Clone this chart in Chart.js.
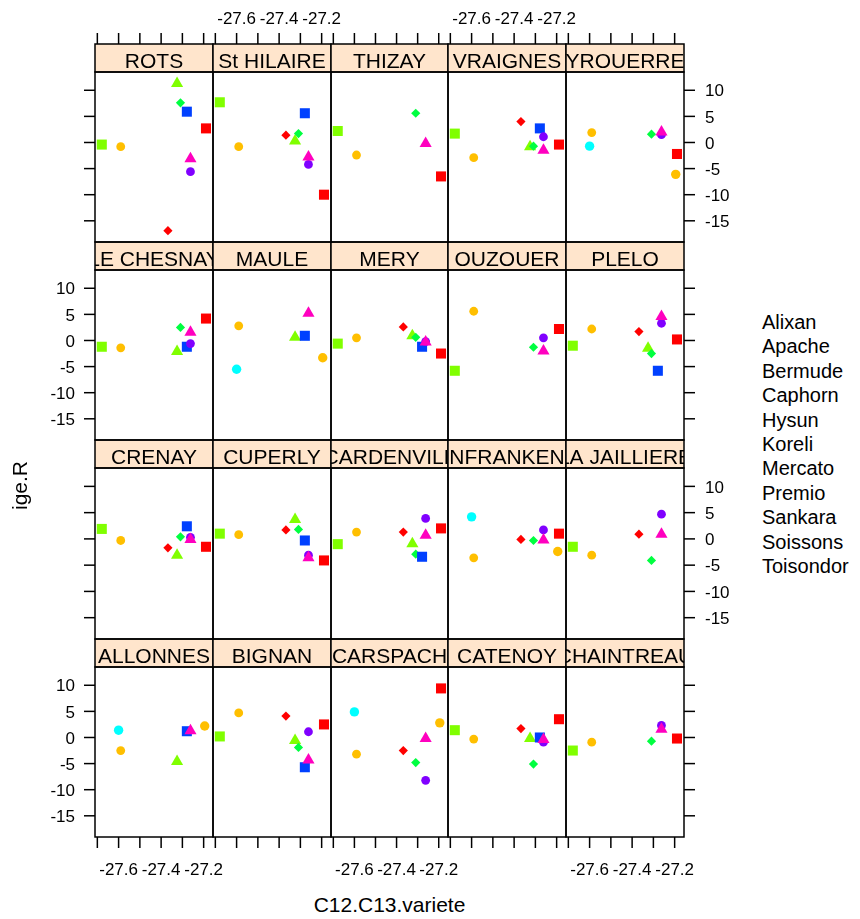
<!DOCTYPE html>
<html>
<head>
<meta charset="utf-8">
<script src="https://cdn.jsdelivr.net/npm/chart.js@4.4.1/dist/chart.umd.min.js"></script>
<style>
  body { margin: 0; background: #fff; width: 860px; height: 919px; position: relative; overflow: hidden;
         font-family: "Liberation Sans", Arial, sans-serif; }
  canvas { position: absolute; }
  .txt { position: absolute; color: #000; white-space: nowrap; }
</style>
</head>
<body>
<script>
// sites in lattice order (bottom-left panel first)
const sites = [
  'ALLONNES', 'BIGNAN', 'CARSPACH', 'CATENOY', 'CHAINTREAU',
  'CRENAY', 'CUPERLY', 'ECARDENVILLE', 'NFRANKEN', 'LA JAILLIERE',
  'LE CHESNAY', 'MAULE', 'MERY', 'OUZOUER', 'PLELO',
  'ROTS', 'St HILAIRE', 'THIZAY', 'VRAIGNES', 'YROUERRE',
];

const varieties = ['Alixan', 'Apache', 'Bermude', 'Caphorn', 'Hysun', 'Koreli',
  'Mercato', 'Premio', 'Sankara', 'Soissons', 'Toisondor'];

// C12.C13 value of each variety (x position)
const varietyX = [-27.189, -27.590, -27.325, -27.309, -27.600, -27.279,
  -27.262, -27.262, -27.368, -27.195, -27.679];

// y values, one per site (same order as sites), null = not grown there
const alixan    = [null, 2.5, 9.4, 3.5, -0.2, -1.5, -4.1, 2.0, 1.0, null, 4.2, null, -2.5, 2.2, 0.2, 2.7, -10.0, -6.5, -0.4, -2.2];
const apache    = [-2.5, 4.7, -3.2, -0.3, -0.9, -0.3, 0.8, 1.3, -3.6, -3.1, -1.4, 2.8, 0.5, 5.6, 2.2, -0.8, -0.8, -2.4, -2.9, 1.9];
const bermude   = [-4.6, -0.6, null, -0.2, null, -3.1, 3.7, -0.9, null, null, -2.1, 0.6, 0.9, null, -1.5, 11.3, 0.3, null, -0.8, null];
const caphorn   = [null, -1.9, -4.8, -5.1, -0.7, 0.4, 1.8, -2.9, -0.3, -4.1, 2.5, null, 0.6, -1.3, -2.5, 7.6, 1.7, 5.6, -0.7, 1.6];
const hysun     = [1.4, null, 4.9, null, null, null, null, null, 4.2, null, null, -5.5, null, null, null, null, null, null, null, -0.7];
const koreli    = [1.2, -5.7, null, 0.0, null, 2.4, -0.3, -3.4, null, null, -1.2, 0.9, -1.2, null, -5.8, 5.9, 5.6, null, 2.7, null];
const mercato   = [null, 1.1, -8.2, -0.9, 2.3, 0.3, -3.1, 3.9, 1.7, 4.7, -0.6, null, -0.2, 0.5, 3.3, -5.6, -4.2, null, 1.1, 1.5];
const premio    = [1.3, -4.3, -0.2, -0.4, 1.6, -0.1, -3.6, 0.7, -0.2, 0.9, 1.6, 5.2, -0.3, -2.0, 4.6, -3.1, -2.8, -0.2, -1.5, 2.0];
const sankara   = [null, 4.1, -2.5, 1.7, null, -1.7, 1.7, 1.3, -0.1, 0.9, null, null, 2.6, null, 1.7, -16.9, 1.4, null, 4.0, null];
const soissons  = [2.2, null, 2.8, null, null, null, null, null, -2.4, null, null, -3.3, null, null, null, null, null, null, null, -6.1];
const toisondor = [null, 0.2, null, 1.4, -2.5, 1.9, 1.0, -1.0, null, -1.5, -1.2, null, -0.6, -5.8, -1.0, -0.4, 7.7, 2.2, 1.7, null];

const seriesValues = [alixan, apache, bermude, caphorn, hysun, koreli, mercato, premio, sankara, soissons, toisondor];

const xTicks = [-27.7, -27.6, -27.5, -27.4, -27.3, -27.2];
const xTickLabels = ['-27.6', '-27.4', '-27.2'];
const yTicks = [-15, -10, -5, 0, 5, 10];

// marker styles: rainbow(8) colours, pch 15..19 cycling
const rainbow8 = ['#FF0000', '#FFBF00', '#80FF00', '#00FF40', '#00FFFF', '#0040FF', '#8000FF', '#FF00BF'];
const pchCycle = [
  { shape: 'rect', radius: 7.1 },
  { shape: 'circle', radius: 4.4 },
  { shape: 'triangle', radius: 7 },
  { shape: 'rectRot', radius: 4.6 },
  { shape: 'circle', radius: 4.7 },
];

// layout
const colEdges = [95, 213, 331, 448, 566, 684];
const rowTops = [44, 242, 440, 639];
const rowBottoms = [242, 440, 639, 837];
const stripH = 28;
const padX = 60;
const padY = 50;
const xRange = [-27.711, -27.156];
const yRange = [-19.06, 13.5];

const panelDecor = {
  id: 'panelDecor',
  afterDraw(chart, args, opts) {
    const { ctx, chartArea: a } = chart;
    const xs = chart.scales.x;
    const ys = chart.scales.y;
    const stripTop = a.top - stripH;
    ctx.save();

    // strip
    ctx.fillStyle = '#FFE5CC';
    ctx.fillRect(a.left, stripTop, a.right - a.left, stripH);
    ctx.save();
    ctx.beginPath();
    ctx.rect(a.left, stripTop, a.right - a.left, stripH);
    ctx.clip();
    ctx.fillStyle = '#000';
    ctx.font = '21px "Liberation Sans", Arial, sans-serif';
    ctx.textAlign = 'center';
    ctx.textBaseline = 'alphabetic';
    ctx.fillText(opts.name, (a.left + a.right) / 2, a.top - 3.7);
    ctx.restore();

    // borders
    ctx.strokeStyle = '#000';
    ctx.lineWidth = 1.5;
    ctx.strokeRect(a.left, stripTop, a.right - a.left, stripH);
    ctx.strokeRect(a.left, a.top, a.right - a.left, a.bottom - a.top);

    ctx.fillStyle = '#000';
    ctx.font = '17px "Liberation Sans", Arial, sans-serif';
    const tick = 11;

    if (opts.row === 0) {
      xTicks.forEach((v) => {
        const px = xs.getPixelForValue(v);
        ctx.beginPath();
        ctx.moveTo(px, stripTop);
        ctx.lineTo(px, stripTop - tick);
        ctx.stroke();
      });
      if (opts.col % 2 === 1) {
        ctx.textAlign = 'center';
        ctx.textBaseline = 'alphabetic';
        xTickLabels.forEach((t) => ctx.fillText(t, xs.getPixelForValue(+t), stripTop - 20));
      }
    }
    if (opts.row === 3) {
      xTicks.forEach((v) => {
        const px = xs.getPixelForValue(v);
        ctx.beginPath();
        ctx.moveTo(px, a.bottom);
        ctx.lineTo(px, a.bottom + tick);
        ctx.stroke();
      });
      if (opts.col % 2 === 0) {
        ctx.textAlign = 'center';
        ctx.textBaseline = 'alphabetic';
        xTickLabels.forEach((t) => ctx.fillText(t, xs.getPixelForValue(+t), a.bottom + 38));
      }
    }
    if (opts.col === 0) {
      yTicks.forEach((v) => {
        const py = ys.getPixelForValue(v);
        ctx.beginPath();
        ctx.moveTo(a.left, py);
        ctx.lineTo(a.left - tick, py);
        ctx.stroke();
      });
      if (opts.row % 2 === 1) {
        ctx.textAlign = 'right';
        ctx.textBaseline = 'middle';
        yTicks.forEach((v) => ctx.fillText(String(v), a.left - 20, ys.getPixelForValue(v) + 1.5));
      }
    }
    if (opts.col === 4) {
      yTicks.forEach((v) => {
        const py = ys.getPixelForValue(v);
        ctx.beginPath();
        ctx.moveTo(a.right, py);
        ctx.lineTo(a.right + tick, py);
        ctx.stroke();
      });
      if (opts.row % 2 === 0) {
        ctx.textAlign = 'left';
        ctx.textBaseline = 'middle';
        yTicks.forEach((v) => ctx.fillText(String(v), a.right + 21, ys.getPixelForValue(v) + 1.5));
      }
    }
    ctx.restore();
  },
};

function makePanel(i) {
  const row = 3 - Math.floor(i / 5);
  const col = i % 5;
  const w = colEdges[col + 1] - colEdges[col];
  const h = rowBottoms[row] - rowTops[row] - stripH;

  const canvas = document.createElement('canvas');
  canvas.width = w + 2 * padX;
  canvas.height = h + stripH + 2 * padY;
  canvas.style.left = (colEdges[col] - padX) + 'px';
  canvas.style.top = (rowTops[row] - padY) + 'px';
  canvas.style.width = canvas.width + 'px';
  canvas.style.height = canvas.height + 'px';
  document.body.appendChild(canvas);

  const datasets = varieties.map((name, k) => {
    const v = seriesValues[k][i];
    const pch = pchCycle[k % 5];
    const col8 = rainbow8[k % 8];
    return {
      label: name,
      data: v === null ? [] : [{ x: varietyX[k], y: v }],
      pointStyle: pch.shape,
      pointRadius: pch.radius,
      pointBackgroundColor: col8,
      pointBorderColor: col8,
      pointBorderWidth: 0,
      order: varieties.length - k,
    };
  });

  new Chart(canvas, {
    type: 'scatter',
    data: { datasets },
    options: {
      responsive: false,
      animation: false,
      events: [],
      layout: { padding: { left: padX, right: padX, top: padY + stripH, bottom: padY } },
      scales: {
        x: { type: 'linear', min: xRange[0], max: xRange[1], display: false },
        y: { type: 'linear', min: yRange[0], max: yRange[1], display: false },
      },
      plugins: {
        legend: { display: false },
        tooltip: { enabled: false },
        panelDecor: { name: sites[i], row, col },
      },
    },
    plugins: [panelDecor],
  });
}

sites.forEach((s, i) => makePanel(i));

// text outside the panels
function addText(text, css) {
  const d = document.createElement('div');
  d.className = 'txt';
  d.textContent = text;
  Object.assign(d.style, css);
  document.body.appendChild(d);
  return d;
}

addText('C12.C13.variete', { left: '0px', width: '779px', textAlign: 'center', top: '893px', fontSize: '21px', lineHeight: '24px', paddingLeft: '0px' });
addText('ige.R', { left: '-4px', top: '474px', fontSize: '21px', lineHeight: '24px', width: '48px', textAlign: 'center', transform: 'rotate(-90deg)' });

varieties.forEach((name, k) => {
  addText(name, { left: '762px', top: (310 + k * 24.4) + 'px', fontSize: '20px', lineHeight: '24.4px' });
});
</script>
</body>
</html>
